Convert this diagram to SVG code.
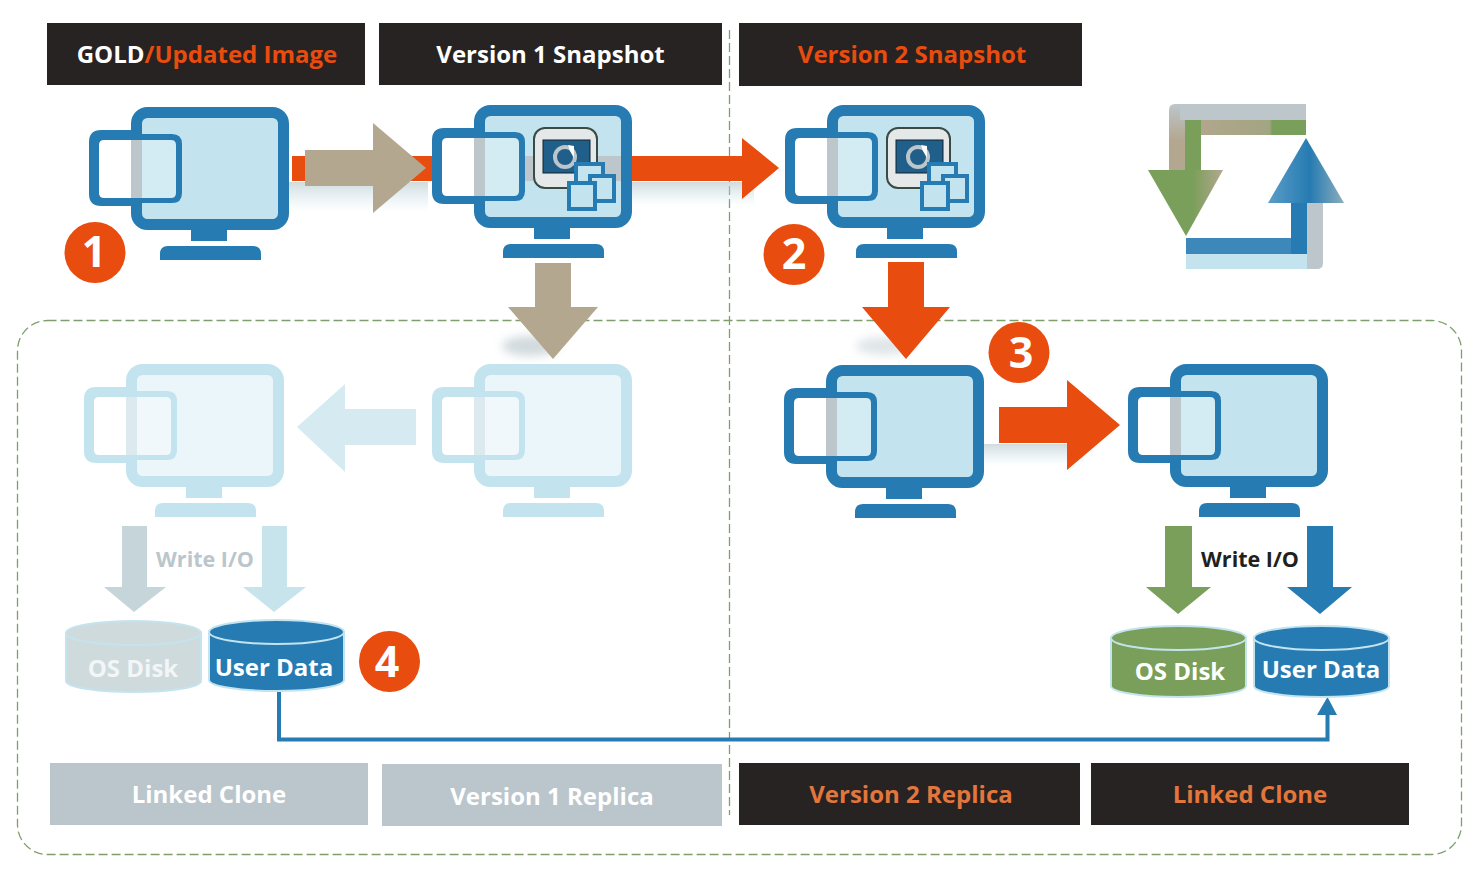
<svg xmlns="http://www.w3.org/2000/svg" width="1476" height="873" viewBox="0 0 1476 873">
<style>
text{font-family:"Open Sans","Noto Sans","Liberation Sans",sans-serif;font-weight:700;text-anchor:middle}
.hd{font-size:24px;fill:#fff}
.or{fill:#e84c0e}
.or2{fill:#e2763c}
.dark{fill:#262322}
.grey{fill:#bac6cb}
.badge{font-size:43px;fill:#fff}
.cyl{font-size:24px;fill:#fff}
.wr{font-size:21.500px}
.mon{--s:#267bb2;--f:#c3e4ef;--w:#fff;--o:#bcc6cb}
.fade{--s:#c3e3ee;--f:#eaf6fa;--w:#fff;--o:#dce9ee}
.blue{fill:#267bb2}
.green{fill:#7a9f5a}
.orange{fill:#e84c0e}
.tan{fill:#b4a78f}
.pale{fill:#c7e3ec}
.palegrey{fill:#c6d5da}
.dash{fill:none;stroke:#7e9f6c;stroke-width:1.3;stroke-dasharray:9 4}
</style>
<defs>
<symbol id="monitor" overflow="visible" viewBox="0 0 1476 873" width="1476" height="873">
<rect x="136.500" y="112.500" width="147" height="112" rx="11" style="fill:var(--f);stroke:var(--s);stroke-width:11"/>
<rect x="191" y="229" width="36" height="12" style="fill:var(--s)"/>
<path d="M160 260V254Q160 246 168 246H253Q261 246 261 254V260Z" style="fill:var(--s)"/>
<rect x="99" y="140" width="43" height="58" style="fill:var(--w)"/>
<rect x="131" y="140" width="11" height="58" style="fill:var(--o)"/>
<rect x="142" y="140" width="34" height="58" fill="#fff" opacity=".28"/>
<path d="M131 130H101Q89 130 89 142V194Q89 206 101 206H131V198H104Q99 198 99 193V145Q99 140 104 140H131Z" style="fill:var(--s)"/>
<path d="M131 134H172Q182 134 182 144V193Q182 203 172 203H131V198H171Q176 198 176 193V145Q176 140 171 140H131Z" style="fill:var(--s)"/>
</symbol>
<symbol id="snap" overflow="visible" viewBox="0 0 1476 873" width="1476" height="873">
<rect x="534" y="128" width="63" height="60" rx="11" fill="#e4e8e8" stroke="#3a4a44" stroke-width="2"/>
<rect x="543" y="140" width="47" height="33" fill="#1f5f8a" stroke="#14222b"/>
<circle cx="565" cy="157" r="10" fill="none" stroke="#bcc6cb" stroke-width="4"/>
<path d="M568 145L574 146L574 158L570 151Z" fill="#fff"/>
<rect x="576" y="164" width="27" height="26" fill="#c3e4ef" stroke="#267bb2" stroke-width="4"/>
<rect x="590" y="176" width="24" height="25" fill="#c3e4ef" stroke="#267bb2" stroke-width="4"/>
<rect x="569" y="183" width="26" height="26" fill="#c3e4ef" stroke="#267bb2" stroke-width="4"/>
</symbol>
<symbol id="cyl" overflow="visible" viewBox="0 0 1476 873" width="1476" height="873">
<path d="M1 13V61A67.500 11 0 0 0 136 61V13Z" stroke="#c3e4ef" stroke-width="2"/>
<ellipse cx="68.500" cy="13" rx="67.500" ry="12" stroke="#c3e4ef" stroke-width="2"/>
</symbol>
<linearGradient id="sh" x1="0" y1="0" x2="0" y2="1"><stop offset="0" stop-color="#b9c6cb" stop-opacity=".65"/><stop offset="1" stop-color="#c3e4ef" stop-opacity="0"/></linearGradient>
<linearGradient id="head" x1="0" y1="0" x2="1" y2="0"><stop offset="0" stop-color="#7a9f5a"/><stop offset=".6" stop-color="#7a9f5a"/><stop offset="1" stop-color="#b4a78f"/></linearGradient>
<linearGradient id="bar" x1="0" y1="0" x2="1" y2="0"><stop offset="0" stop-color="#b4a78f"/><stop offset=".7" stop-color="#a3a582"/><stop offset=".72" stop-color="#7a9f5a"/></linearGradient>
<linearGradient id="left" x1="0" y1="0" x2="0" y2="1"><stop offset="0" stop-color="#bcc6cb"/><stop offset=".55" stop-color="#b4a78f"/></linearGradient>
<linearGradient id="uphead" x1="0" y1="0" x2="1" y2="0"><stop offset="0" stop-color="#5b9dc8"/><stop offset=".55" stop-color="#267bb2"/><stop offset="1" stop-color="#8caebd"/></linearGradient>
<filter id="bl" x="-30%" y="-60%" width="160%" height="220%"><feGaussianBlur stdDeviation="5"/></filter>
</defs>

<g id="frames">
<rect class="dash" x="17.500" y="320.500" width="1444" height="534" rx="30"/>
<path class="dash" d="M729.500 30V815"/>
</g>

<g id="shadows">
<rect x="288" y="182" width="140" height="30" fill="url(#sh)"/>
<rect x="632" y="182" width="122" height="24" fill="url(#sh)"/>
<rect x="984" y="444" width="100" height="22" fill="url(#sh)"/>
<ellipse cx="530" cy="346" rx="28" ry="10" fill="#b9c6cb" opacity=".65" filter="url(#bl)"/>
<ellipse cx="884" cy="346" rx="28" ry="9" fill="#b9c6cb" opacity=".45" filter="url(#bl)"/>
</g>

<g id="connectors">
<rect class="orange" x="292" y="156" width="141" height="25"/>
<path class="tan" d="M305 150H373V123L426 168L373 213V186H305Z"/>
<path class="orange" d="M631 156H742V138L779 168L742 199V181H631Z"/>
<path class="tan" d="M535 263H571V307H598L553 359L508 307H535Z"/>
<path class="orange" d="M888 262H924V307H950L906 359L862 307H888Z"/>
<path class="orange" d="M999 407H1067V380L1120 425L1067 470V443H999Z"/>
<path class="pale" opacity=".75" d="M416 409H345V384L297 427L345 472V445H416Z"/>
<path class="palegrey" d="M122 526H147V587H166L134 612L104 587H122Z"/>
<path class="pale" d="M262 526H287V587H306L274 612L243 587H262Z"/>
<path class="green" d="M1165 526H1192V587H1211L1178 614L1146 587H1165Z"/>
<path class="blue" d="M1307 526H1333V587H1352L1320 614L1287 587H1307Z"/>
<path d="M279 692V739.500H1327.500V712" fill="none" stroke="#267bb2" stroke-width="4"/>
<path class="blue" d="M1317 715L1327.500 697L1337 715Z"/>
</g>

<g id="gold-monitor" class="mon"><use href="#monitor"/></g>
<g id="v1-snapshot-monitor" class="mon"><use href="#monitor" x="343" y="-2"/><rect x="525" y="156" width="96" height="25" fill="#bcc6cb"/><use href="#snap"/></g>
<g id="v2-snapshot-monitor" class="mon"><use href="#monitor" x="696" y="-2"/><use href="#snap" x="353"/></g>
<g id="v2-replica-monitor" class="mon"><use href="#monitor" x="695" y="258"/></g>
<g id="linked-clone-monitor" class="mon"><use href="#monitor" x="1039" y="257"/></g>
<g id="v1-replica-monitor" class="fade"><use href="#monitor" x="343" y="257"/></g>
<g id="old-clone-monitor" class="fade"><use href="#monitor" x="-5" y="257"/></g>

<g id="cycle-icon">
<path fill="url(#left)" d="M1169 170V110Q1169 104 1175 104H1185V170Z"/>
<path fill="#bcc6cb" d="M1180 104H1306V120H1180Z"/>
<path fill="url(#bar)" d="M1185 120H1306V135H1185Z"/>
<path fill="#7a9f5a" d="M1185 120H1201V172H1185Z"/>
<path fill="url(#head)" d="M1148 170H1223L1186 236Z"/>
<path fill="#bcc6cb" d="M1307 203H1323V263Q1323 269 1317 269H1300V203Z"/>
<path fill="#c3e4ef" d="M1186 254H1307V269H1186Z"/>
<path fill="#3c88bb" d="M1186 238H1307V254H1186Z"/>
<path fill="#267bb2" d="M1291 203H1307V254H1291Z"/>
<path fill="url(#uphead)" d="M1268 203L1306 138L1344 203Z"/>
</g>

<g id="hdr-gold"><rect class="dark" x="47" y="23" width="318" height="62"/><text class="hd" x="207" y="63"><tspan>GOLD</tspan><tspan class="or">/Updated Image</tspan></text></g>
<g id="hdr-v1"><rect class="dark" x="379" y="23" width="343" height="62"/><text class="hd" x="550.500" y="63">Version 1 Snapshot</text></g>
<g id="hdr-v2"><rect class="dark" x="739" y="23" width="343" height="63"/><text class="hd or" x="912" y="63">Version 2 Snapshot</text></g>
<g id="ftr-clone1"><rect class="grey" x="50" y="763" width="318" height="62"/><text class="hd" x="209" y="803">Linked Clone</text></g>
<g id="ftr-v1"><rect class="grey" x="382" y="764" width="340" height="62"/><text class="hd" x="552" y="805">Version 1 Replica</text></g>
<g id="ftr-v2"><rect class="dark" x="739" y="763" width="341" height="62"/><text class="hd or2" x="911" y="803">Version 2 Replica</text></g>
<g id="ftr-clone2"><rect class="dark" x="1091" y="763" width="318" height="62"/><text class="hd or2" x="1250" y="803">Linked Clone</text></g>

<g id="badge-1"><circle class="orange" cx="95" cy="252.500" r="30.500"/><text class="badge" x="94" y="267">1</text></g>
<g id="badge-2"><circle class="orange" cx="794" cy="254.500" r="30.500"/><text class="badge" x="794" y="269">2</text></g>
<g id="badge-3"><circle class="orange" cx="1019" cy="352.500" r="30.500"/><text class="badge" x="1021" y="368">3</text></g>
<g id="badge-4"><circle class="orange" cx="389.500" cy="661.500" r="30.500"/><text class="badge" x="387" y="677">4</text></g>

<g id="os-disk-faded"><use href="#cyl" x="65" y="620" fill="#cfdadd"/><text class="cyl" x="133" y="677" style="fill:#f2f6f7">OS Disk</text></g>
<g id="user-data-1"><use href="#cyl" x="208" y="619" fill="#267bb2"/><text class="cyl" x="274" y="676">User Data</text></g>
<g id="os-disk"><use href="#cyl" x="1110" y="625" fill="#7a9f5a"/><text class="cyl" x="1180" y="680">OS Disk</text></g>
<g id="user-data-2"><use href="#cyl" x="1253" y="625" fill="#267bb2"/><text class="cyl" x="1321" y="678">User Data</text></g>

<text class="wr" x="205" y="567" style="fill:#bac6cb">Write I/O</text>
<text class="wr" x="1250" y="567" style="fill:#231f20">Write I/O</text>
</svg>
